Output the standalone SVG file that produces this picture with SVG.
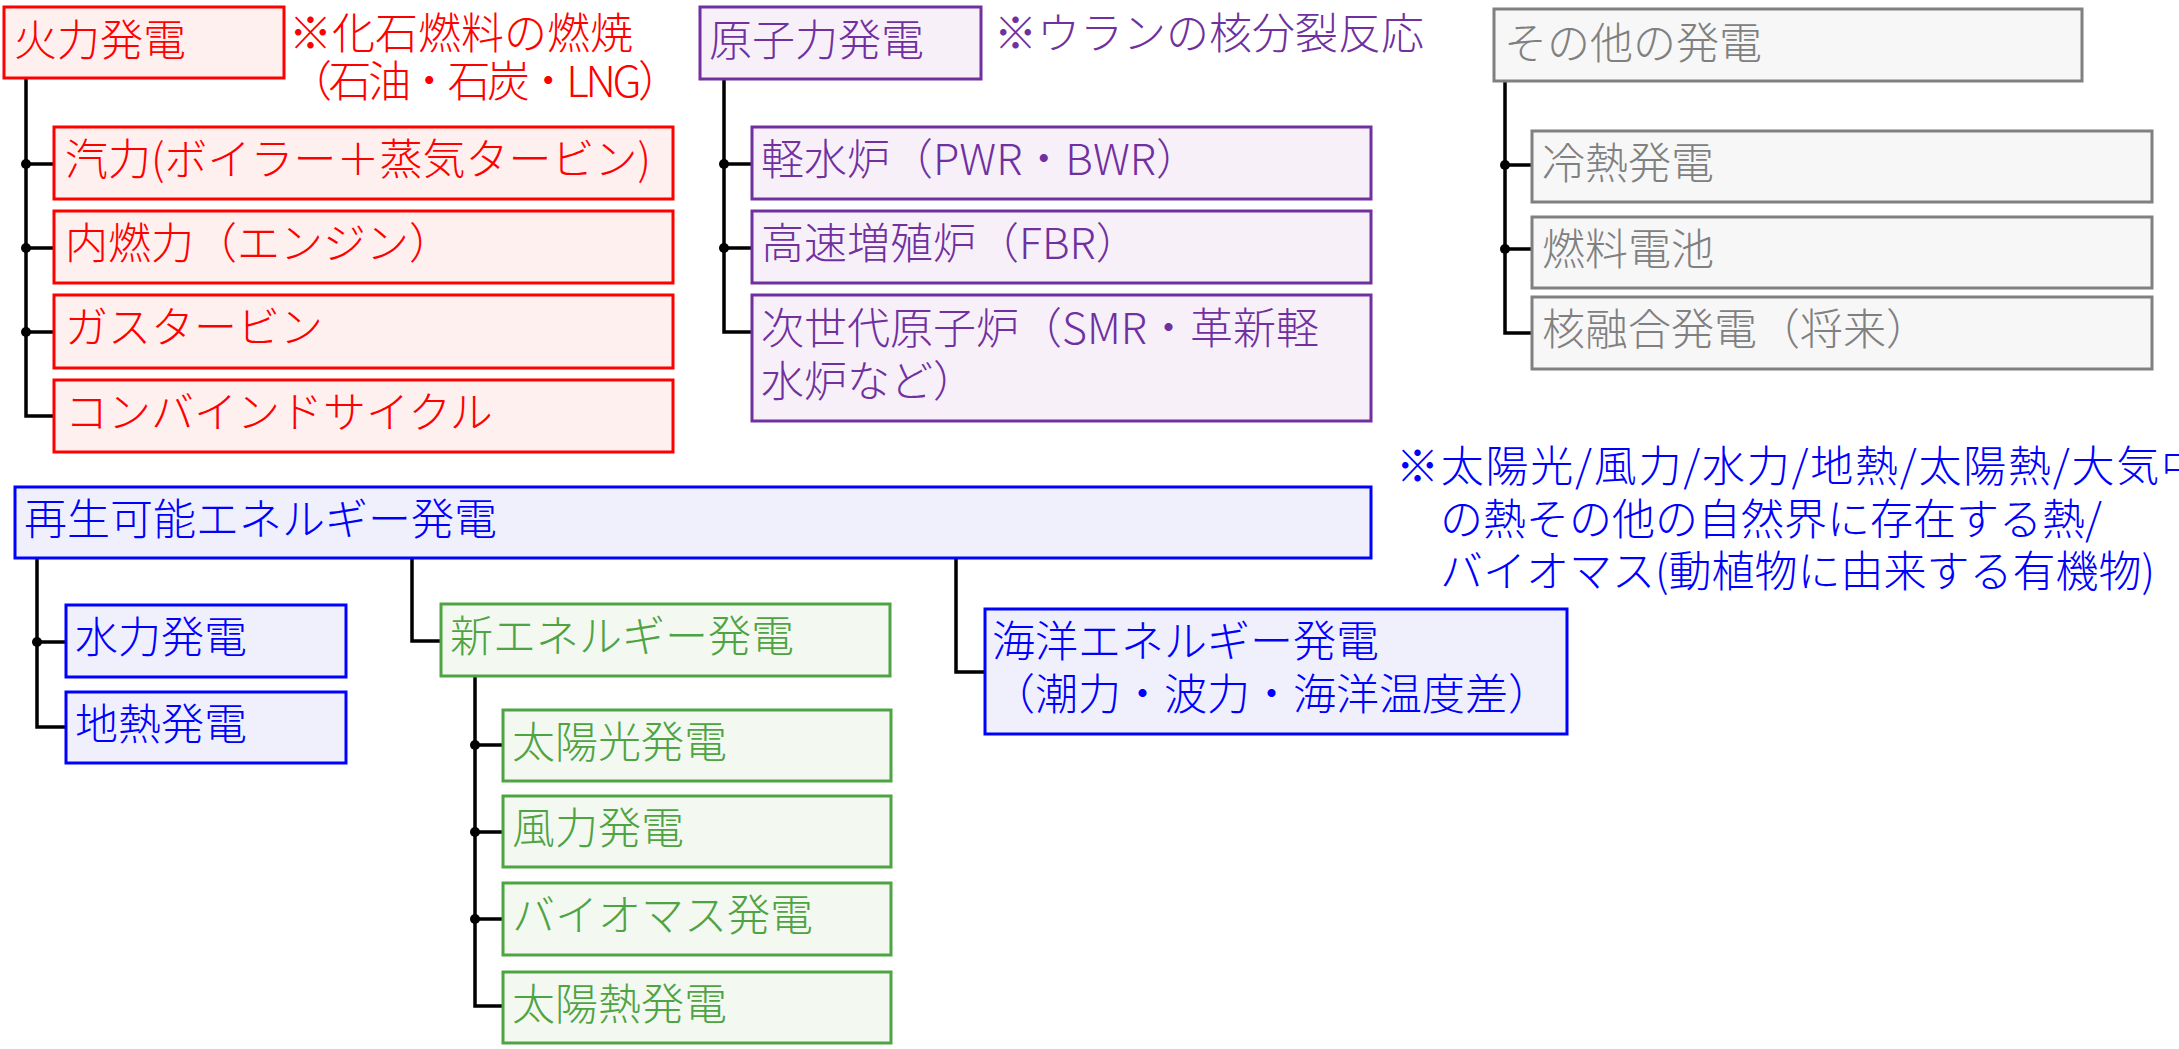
<svg xmlns="http://www.w3.org/2000/svg" width="2179" height="1049" viewBox="0 0 2179 1049">
<style>
text{font-family:"Noto Sans CJK JP","Noto Sans",sans-serif;font-size:43px;font-weight:300}
.box{stroke-width:3}
.red rect{fill:#fff0f0;stroke:#ff0000}.red text,.tred{fill:#ff0000}
.pur rect{fill:#f7f0f9;stroke:#7030a0}.pur text,.tpur{fill:#7030a0}
.gry rect{fill:#f7f7f7;stroke:#808080}.gry text{fill:#808080}
.blu rect{fill:#f0f0fc;stroke:#0000ff}.blu text,.tblu{fill:#0000ff}
.grn rect{fill:#f3f8f1;stroke:#4ea343}.grn text{fill:#4ea343}
.con path{fill:none;stroke:#000;stroke-width:3.5}
.con circle{fill:#000}
</style>
<rect width="2179" height="1049" fill="#ffffff"/>
<g id="connectors" class="con">
<path d="M26,79V416H54M26,164H54M26,248H54M26,332H54"/>
<circle cx="26" cy="164" r="5"/><circle cx="26" cy="248" r="5"/><circle cx="26" cy="332" r="5"/>
<path d="M724,79V332H752M724,164H752M724,248H752"/>
<circle cx="724" cy="164" r="5"/><circle cx="724" cy="248" r="5"/>
<path d="M1505,81V333H1532M1505,165H1532M1505,249H1532"/>
<circle cx="1505" cy="165" r="5"/><circle cx="1505" cy="249" r="5"/>
<path d="M37,558V727H66M37,642H66"/>
<circle cx="37" cy="642" r="5"/>
<path d="M412,558V641H441"/>
<path d="M956,558V672H985"/>
<path d="M475,676V1006H503M475,745H503M475,832H503M475,919H503"/>
<circle cx="475" cy="745" r="5"/><circle cx="475" cy="832" r="5"/><circle cx="475" cy="919" r="5"/>
</g>
<g id="n-karyoku" class="red"><rect class="box" x="4" y="7" width="280" height="71"/><text x="14" y="56">火力発電</text></g>
<g id="note-karyoku"><text class="tred" x="289" y="49">※化石燃料の燃焼</text><text class="tred" x="289" y="97" textLength="392" lengthAdjust="spacing">（石油・石炭・LNG）</text></g>
<g id="n-kiryoku" class="red"><rect class="box" x="54" y="127" width="619" height="72"/><text x="65" y="175">汽力(ボイラー＋蒸気タービン)</text></g>
<g id="n-nainen" class="red"><rect class="box" x="54" y="211" width="619" height="72"/><text x="65" y="259">内燃力（エンジン）</text></g>
<g id="n-gas" class="red"><rect class="box" x="54" y="295" width="619" height="73"/><text x="65" y="343">ガスタービン</text></g>
<g id="n-combined" class="red"><rect class="box" x="54" y="380" width="619" height="72"/><text x="65" y="428">コンバインドサイクル</text></g>

<g id="n-genshiryoku" class="pur"><rect class="box" x="700" y="7" width="281" height="72"/><text x="709" y="56">原子力発電</text></g>
<g id="note-genshiryoku"><text class="tpur" x="994" y="49">※ウランの核分裂反応</text></g>
<g id="n-keisui" class="pur"><rect class="box" x="752" y="127" width="619" height="72"/><text x="761" y="175">軽水炉（PWR・BWR）</text></g>
<g id="n-kosoku" class="pur"><rect class="box" x="752" y="211" width="619" height="72"/><text x="761" y="259">高速増殖炉（FBR）</text></g>
<g id="n-jisedai" class="pur"><rect class="box" x="752" y="295" width="619" height="126"/><text x="761" y="344">次世代原子炉（SMR・革新軽</text><text x="761" y="397">水炉など）</text></g>

<g id="n-sonota" class="gry"><rect class="box" x="1494" y="9" width="588" height="72"/><text x="1504" y="59">その他の発電</text></g>
<g id="n-reinetsu" class="gry"><rect class="box" x="1532" y="131" width="620" height="71"/><text x="1542" y="179">冷熱発電</text></g>
<g id="n-nenryo" class="gry"><rect class="box" x="1532" y="217" width="620" height="71"/><text x="1542" y="265">燃料電池</text></g>
<g id="n-kakuyugo" class="gry"><rect class="box" x="1532" y="297" width="620" height="72"/><text x="1542" y="345">核融合発電（将来）</text></g>

<g id="n-saisei" class="blu"><rect class="box" x="15" y="487" width="1356" height="71"/><text x="24" y="535">再生可能エネルギー発電</text></g>
<g id="note-saisei"><text class="tblu" x="1396" y="482" textLength="808" lengthAdjust="spacing">※太陽光/風力/水力/地熱/太陽熱/大気中</text><text class="tblu" x="1440" y="535">の熱その他の自然界に存在する熱/</text><text class="tblu" x="1440" y="587">バイオマス(動植物に由来する有機物)</text></g>
<g id="n-suiryoku" class="blu"><rect class="box" x="66" y="605" width="280" height="72"/><text x="75" y="653">水力発電</text></g>
<g id="n-chinetsu" class="blu"><rect class="box" x="66" y="692" width="280" height="71"/><text x="75" y="740">地熱発電</text></g>
<g id="n-kaiyo" class="blu"><rect class="box" x="985" y="609" width="582" height="125"/><text x="992" y="657">海洋エネルギー発電</text><text x="992" y="710">（潮力・波力・海洋温度差）</text></g>

<g id="n-shin" class="grn"><rect class="box" x="441" y="604" width="449" height="72"/><text x="450" y="652">新エネルギー発電</text></g>
<g id="n-taiyoko" class="grn"><rect class="box" x="503" y="710" width="388" height="71"/><text x="512" y="758">太陽光発電</text></g>
<g id="n-furyoku" class="grn"><rect class="box" x="503" y="796" width="388" height="71"/><text x="512" y="844">風力発電</text></g>
<g id="n-biomass" class="grn"><rect class="box" x="503" y="883" width="388" height="72"/><text x="512" y="931">バイオマス発電</text></g>
<g id="n-taiyonetsu" class="grn"><rect class="box" x="503" y="972" width="388" height="71"/><text x="512" y="1020">太陽熱発電</text></g>
</svg>
